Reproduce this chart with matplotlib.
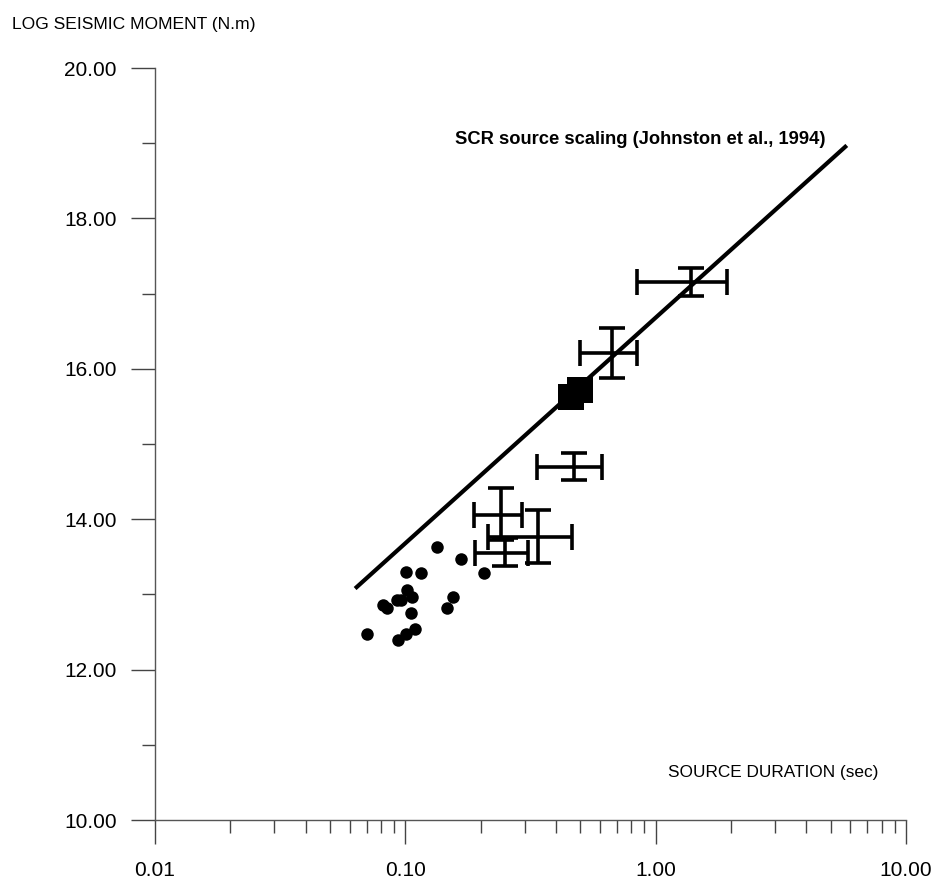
import numpy as np
import matplotlib
matplotlib.use("Agg")
import matplotlib.pyplot as plt
from matplotlib.ticker import FixedLocator, FixedFormatter, NullFormatter, MultipleLocator, FormatStrFormatter

# small events (duration in sec, log moment)
dot_t = [0.1335, 0.1665, 0.2069, 0.1004, 0.1155, 0.1013, 0.1061, 0.0924, 0.0961,
         0.0817, 0.0843, 0.1555, 0.1464, 0.1051, 0.0705, 0.1094, 0.1006, 0.0938]
dot_m = [13.63, 13.47, 13.28, 13.30, 13.28, 13.06, 12.97, 12.93, 12.92,
         12.86, 12.82, 12.96, 12.82, 12.75, 12.48, 12.54, 12.47, 12.40]

# events with ranges on both axes
bar_t = [0.472, 0.241, 0.339, 0.250, 0.670, 1.385]
bar_t_lo = [0.336, 0.188, 0.214, 0.190, 0.499, 0.843]
bar_t_hi = [0.611, 0.293, 0.463, 0.309, 0.843, 1.930]
bar_m = [14.69, 14.06, 13.76, 13.55, 16.21, 17.15]
bar_m_lo = [14.52, 13.72, 13.42, 13.38, 15.88, 16.97]
bar_m_hi = [14.88, 14.41, 14.12, 13.75, 16.54, 17.34]

# main shocks
sq_t = [0.457, 0.499]
sq_m = [15.63, 15.72]

# scaling line  log M0 = 3 log T + c
line_t = [0.063, 5.8]
line_c = 16.68

xticks = [0.01, 0.1, 1.0, 10.0]
xticklabels = ["0.01", "0.10", "1.00", "10.00"]

W, H = 937, 882
fig = plt.figure(figsize=(W / 100, H / 100), dpi=100)
ax = fig.add_axes([155 / W, (H - 820) / H, (906 - 155) / W, (820 - 68) / H])

lt = np.array(line_t)
ax.plot(lt, 3 * np.log10(lt) + line_c, color="black", lw=3.0, solid_capstyle="butt")

t = np.array(bar_t)
m = np.array(bar_m)
xerr = [t - np.array(bar_t_lo), np.array(bar_t_hi) - t]
yerr = [m - np.array(bar_m_lo), np.array(bar_m_hi) - m]
ax.errorbar(t, m, xerr=xerr, yerr=yerr, fmt="none", ecolor="black",
            elinewidth=2.6, capsize=9.5, capthick=2.6)

ax.plot(dot_t, dot_m, "o", color="black", ms=9, mew=0)
ax.plot(sq_t, sq_m, "s", color="black", ms=18.5, mew=0)

ax.set_xscale("log")
ax.set_xlim(0.01, 10)
ax.set_ylim(10, 20)

for s in ["top", "right"]:
    ax.spines[s].set_visible(False)
for s in ["left", "bottom"]:
    ax.spines[s].set_color("#555555")
    ax.spines[s].set_linewidth(1.0)

tickfont = "Liberation Sans"
ax.xaxis.set_major_locator(FixedLocator(xticks))
ax.xaxis.set_major_formatter(FixedFormatter(xticklabels))
ax.xaxis.set_minor_locator(FixedLocator([k * d for d in [0.01, 0.1, 1.0] for k in range(2, 10)]))
ax.xaxis.set_minor_formatter(NullFormatter())
ax.yaxis.set_major_locator(MultipleLocator(2))
ax.yaxis.set_major_formatter(FormatStrFormatter("%.2f"))
ax.yaxis.set_minor_locator(MultipleLocator(1))

ax.tick_params(which="major", direction="out", length=17.5, width=1.0, color="#444444")
ax.tick_params(which="minor", direction="out", length=9.5, width=1.0, color="#444444")
ax.tick_params(axis="x", which="major", pad=12)
ax.tick_params(axis="y", which="major", pad=10)
for lab in ax.get_xticklabels() + ax.get_yticklabels():
    lab.set_fontfamily(tickfont)
    lab.set_fontsize(15)

fig.text(12 / W, 1 - 24 / H, "LOG SEISMIC MOMENT (N.m)", family=tickfont,
         fontsize=12.6, ha="left", va="center")
fig.text(773 / W, 1 - 773 / H, "SOURCE DURATION (sec)", family=tickfont,
         fontsize=12.4, ha="center", va="center")
ax.text(0.158, 18.99, "SCR source scaling (Johnston et al., 1994)",
        family=tickfont, fontweight="bold", fontsize=13.2, ha="left", va="baseline")

fig.savefig("out.png", dpi=100)
